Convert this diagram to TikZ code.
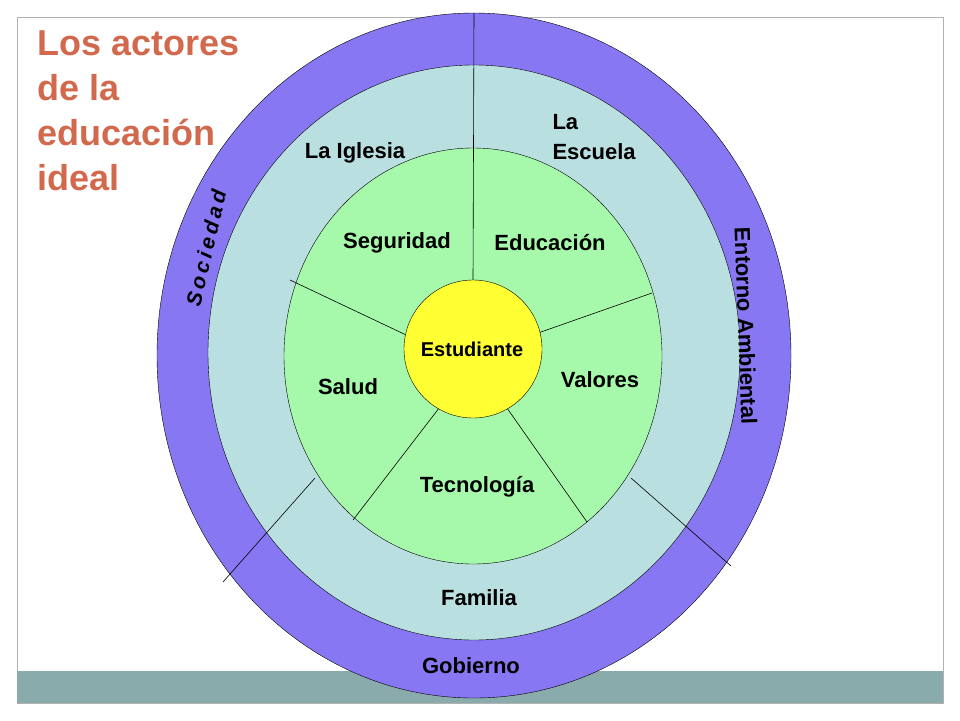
\documentclass[tikz,border=0pt]{standalone}
\usepackage{fontspec}
\setmainfont{Liberation Sans}
\usetikzlibrary{shapes.geometric}
\begin{document}
\begin{tikzpicture}[x=1pt,y=-1pt,
 lbl/.style={font=\bfseries\fontsize{22}{30}\selectfont,align=left},
 ln/.style={draw=black,line width=0.6pt}]
\definecolor{purp}{HTML}{8877F2}
\definecolor{lblue}{HTML}{B9DFE1}
\definecolor{lgreen}{HTML}{A6F9AA}
\definecolor{yel}{HTML}{FFFF33}
\definecolor{band}{HTML}{8AABAB}
\definecolor{ttl}{HTML}{D3694C}
\useasboundingbox (0,0) rectangle (960,720);
\fill[white] (0,0) rectangle (960,720);
\draw[gray!60,line width=0.8pt] (17,17) rectangle (943,703);
\fill[band] (17,671) rectangle (943,703);
\node[draw,fill=purp,ellipse,minimum width=634,minimum height=685,inner sep=0] (outer) at (474,355.5) {};
\node[draw,fill=lblue,ellipse,minimum width=532,minimum height=575,inner sep=0] (mid) at (474,352.5) {};
\node[draw,fill=lgreen,ellipse,minimum width=378,minimum height=416,inner sep=0] (green) at (473,356) {};
\node[draw,fill=yel,circle,minimum size=138,inner sep=0] (stud) at (473,349) {};
\coordinate (t0) at (474,13);
\draw[ln] (stud.north) -- (t0);
\coordinate (g1) at (290,280); \coordinate (g2) at (652,293);
\coordinate (g3) at (587,522); \coordinate (g4) at (353,520);
\draw[ln] (stud.168) -- (g1);
\draw[ln] (stud.14) -- (g2);
\draw[ln] (stud.-60) -- (g3);
\draw[ln] (stud.-120) -- (g4);
\coordinate (m1) at (315,478); \coordinate (m2) at (223,582);
\coordinate (m3) at (631,478); \coordinate (m4) at (731,566);
\draw[ln] (m1) -- (m2);
\draw[ln] (m3) -- (m4);
\node[lbl,font=\bfseries\fontsize{20}{24}\selectfont] (est) at (472,349) {Estudiante};
\node[lbl] (igl) at (355,153) {La Iglesia};
\node[lbl,anchor=west] (esc) at (549,137) {La\\Escuela};
\node[lbl] (seg) at (397,243) {Seguridad};
\node[lbl] (edu) at (550,243) {Educación};
\node[lbl] (sal) at (348,387) {Salud};
\node[lbl] (val) at (600,380) {Valores};
\node[lbl] (tec) at (477,487) {Tecnología};
\node[lbl] (fam) at (479,598) {Familia};
\node[lbl] (gob) at (471,666) {Gobierno};
\node[lbl,font=\bfseries\itshape\fontsize{21}{24}\selectfont,rotate=77] (soc) at (206,248) {S\,o\,c\,i\,e\,d\,a\,d};
\node[lbl,rotate=-88] (ent) at (746,326) {Entorno Ambiental};
\node[font=\bfseries\fontsize{36}{45}\selectfont,text=ttl,align=left,anchor=north west,inner sep=0] (title) at (37,31) {Los actores\\de la\\educación\\ideal};
\end{tikzpicture}
\end{document}
